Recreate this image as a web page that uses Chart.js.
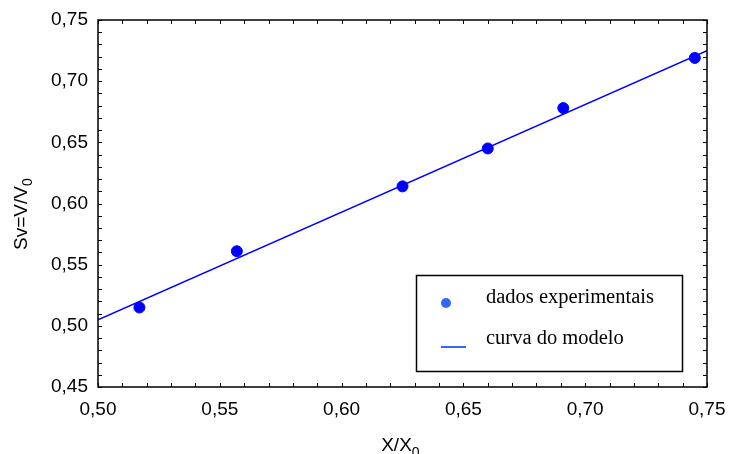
<!doctype html>
<html lang="pt">
<head>
<meta charset="utf-8">
<title>Sv x X/X0</title>
<script src="https://cdn.jsdelivr.net/npm/chart.js@4.4.0/dist/chart.umd.min.js"></script>
<style>
  html, body { margin: 0; padding: 0; background: #fff; }
  #wrap { width: 729px; height: 454px; }
</style>
</head>
<body>
<div id="wrap"><canvas id="grafico"></canvas></div>
<script>
// pontos experimentais
var xExp = [0.517, 0.557, 0.625, 0.660, 0.691, 0.745];
var svExp = [0.515, 0.561, 0.614, 0.645, 0.678, 0.719];
// reta do modelo (extremos)
var xModelo = [0.50, 0.75];
var svModelo = [0.505, 0.725];
var xTicks = [0.50, 0.55, 0.60, 0.65, 0.70, 0.75];
var yTicks = [0.45, 0.50, 0.55, 0.60, 0.65, 0.70, 0.75];
var legenda = ['dados experimentais', 'curva do modelo'];

function virgula(v) { return v.toFixed(2).replace('.', ','); }

// moldura, marcas internas, titulos com subscrito e legenda
var moldura = {
  id: 'moldura',
  afterDraw: function (chart) {
    var c = chart.ctx, a = chart.chartArea;
    var sx = chart.scales.x, sy = chart.scales.y;
    c.save();
    c.strokeStyle = '#000';
    c.lineWidth = 1.5;
    c.strokeRect(a.left, a.top, a.right - a.left, a.bottom - a.top);
    c.lineWidth = 1;
    c.beginPath();
    for (var i = 0; i <= 25; i++) {
      var px = Math.round(sx.getPixelForValue(0.50 + i * 0.01)) + 0.5;
      c.moveTo(px, a.bottom); c.lineTo(px, a.bottom - 4);
      c.moveTo(px, a.top); c.lineTo(px, a.top + 4);
    }
    for (var j = 0; j <= 30; j++) {
      var py = Math.round(sy.getPixelForValue(0.45 + j * 0.01)) + 0.5;
      c.moveTo(a.left, py); c.lineTo(a.left + 4, py);
      c.moveTo(a.right, py); c.lineTo(a.right - 4, py);
    }
    c.stroke();

    // titulo do eixo x
    c.fillStyle = '#000';
    c.textBaseline = 'alphabetic';
    c.font = '19px "Liberation Sans", Arial, sans-serif';
    var t = 'X/X', w = c.measureText(t).width;
    var cx = (a.left + a.right) / 2 - 6;
    c.textAlign = 'left';
    c.fillText(t, cx - w / 2, 451);
    c.font = '14px "Liberation Sans", Arial, sans-serif';
    c.fillText('0', cx + w / 2, 457);

    // titulo do eixo y
    c.translate(27, 214);
    c.rotate(-Math.PI / 2);
    c.font = '19px "Liberation Sans", Arial, sans-serif';
    t = 'Sv=V/V';
    w = c.measureText(t).width;
    c.fillText(t, -w / 2 - 4, 0);
    c.font = '14px "Liberation Sans", Arial, sans-serif';
    c.fillText('0', w / 2 - 4, 5);
    c.setTransform(1, 0, 0, 1, 0, 0);

    // legenda
    c.lineWidth = 1.5;
    c.strokeRect(416.5, 275.5, 266, 96);
    c.fillStyle = '#3366ff';
    c.beginPath();
    c.arc(446, 303, 5, 0, Math.PI * 2);
    c.fill();
    c.strokeStyle = '#3366ff';
    c.lineWidth = 2;
    c.beginPath();
    c.moveTo(441, 347); c.lineTo(466, 347);
    c.stroke();
    c.fillStyle = '#000';
    c.font = '20.5px "Liberation Serif", "Times New Roman", serif';
    c.textBaseline = 'middle';
    c.fillText(legenda[0], 486, 298);
    c.fillText(legenda[1], 486, 339);
    c.restore();
  }
};

new Chart(document.getElementById('grafico'), {
  type: 'scatter',
  data: {
    datasets: [
      {
        label: legenda[1],
        type: 'line',
        data: xModelo.map(function (x, i) { return { x: x, y: svModelo[i] }; }),
        borderColor: '#0000ff',
        borderWidth: 1.5,
        pointRadius: 0,
        fill: false
      },
      {
        label: legenda[0],
        data: xExp.map(function (x, i) { return { x: x, y: svExp[i] }; }),
        backgroundColor: '#0000ff',
        borderColor: '#0000ff',
        pointRadius: 5.5
      }
    ]
  },
  options: {
    responsive: true,
    maintainAspectRatio: false,
    animation: false,
    layout: { padding: { left: 0, right: 22, top: 20, bottom: 0 } },
    plugins: { legend: { display: false }, tooltip: { enabled: false } },
    scales: {
      x: {
        type: 'linear',
        min: 0.50, max: 0.75,
        afterFit: function (s) { s.height = 67; s.paddingLeft = 0; s.paddingRight = 0; },
        afterBuildTicks: function (s) { s.ticks = xTicks.map(function (v) { return { value: v }; }); },
        grid: { display: false, drawTicks: false },
        border: { display: false },
        ticks: {
          padding: 11,
          color: '#000',
          font: { family: '"Liberation Sans", Arial, sans-serif', size: 19 },
          callback: function (v) { return virgula(v); }
        }
      },
      y: {
        type: 'linear',
        min: 0.45, max: 0.75,
        afterFit: function (s) { s.width = 98; s.paddingTop = 0; s.paddingBottom = 0; },
        afterBuildTicks: function (s) { s.ticks = yTicks.map(function (v) { return { value: v }; }); },
        grid: { display: false, drawTicks: false },
        border: { display: false },
        ticks: {
          padding: 10,
          color: '#000',
          font: { family: '"Liberation Sans", Arial, sans-serif', size: 19 },
          callback: function (v) { return virgula(v); }
        }
      }
    }
  },
  plugins: [moldura]
});
</script>
</body>
</html>
